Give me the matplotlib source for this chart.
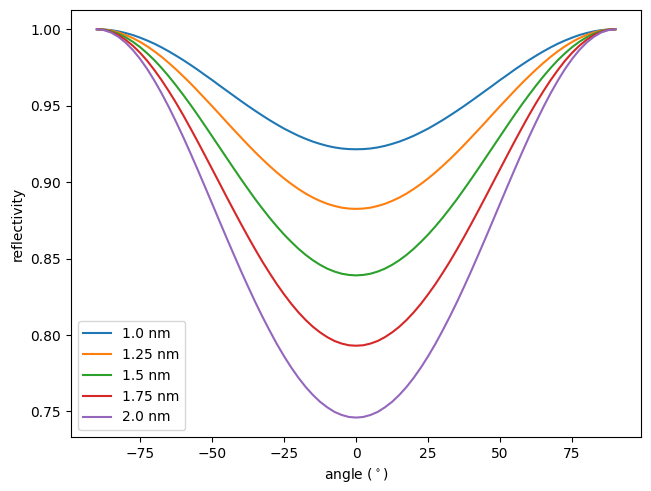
import numpy as np
import matplotlib
matplotlib.use('Agg')
import matplotlib.pyplot as plt

# angles from 0 to 90 deg in 2.5 deg steps (curves are symmetric about 0)
half_angle = np.arange(0, 92.5, 2.5)

r_10 = [0.9215, 0.9216, 0.9220, 0.9227, 0.9237, 0.9250, 0.9265, 0.9283, 0.9303, 0.9326,
        0.9350, 0.9377, 0.9405, 0.9435, 0.9466, 0.9498, 0.9531, 0.9565, 0.9599, 0.9633,
        0.9668, 0.9701, 0.9735, 0.9767, 0.9798, 0.9827, 0.9855, 0.9881, 0.9905, 0.9926,
        0.9945, 0.9962, 0.9975, 0.9986, 0.9994, 0.9998, 1.0]
r_125 = [0.8825, 0.8827, 0.8833, 0.8844, 0.8858, 0.8877, 0.8899, 0.8925, 0.8955, 0.8988,
         0.9024, 0.9063, 0.9105, 0.9149, 0.9195, 0.9243, 0.9293, 0.9343, 0.9394, 0.9446,
         0.9497, 0.9547, 0.9597, 0.9646, 0.9692, 0.9737, 0.9779, 0.9819, 0.9855, 0.9888,
         0.9917, 0.9942, 0.9962, 0.9979, 0.9991, 0.9998, 1.0]
r_15 = [0.8390, 0.8393, 0.8401, 0.8415, 0.8434, 0.8459, 0.8489, 0.8524, 0.8564, 0.8609,
        0.8657, 0.8710, 0.8766, 0.8826, 0.8888, 0.8954, 0.9021, 0.9090, 0.9160, 0.9230,
        0.9300, 0.9370, 0.9439, 0.9506, 0.9570, 0.9632, 0.9691, 0.9746, 0.9797, 0.9842,
        0.9883, 0.9918, 0.9947, 0.9970, 0.9987, 0.9997, 1.0]
r_175 = [0.7930, 0.7933, 0.7944, 0.7961, 0.7986, 0.8017, 0.8054, 0.8098, 0.8148, 0.8204,
         0.8266, 0.8332, 0.8404, 0.8479, 0.8559, 0.8642, 0.8728, 0.8816, 0.8905, 0.8996,
         0.9086, 0.9176, 0.9265, 0.9352, 0.9437, 0.9518, 0.9594, 0.9666, 0.9732, 0.9793,
         0.9846, 0.9892, 0.9930, 0.9961, 0.9982, 0.9996, 1.0]
r_20 = [0.7460, 0.7464, 0.7477, 0.7497, 0.7527, 0.7563, 0.7608, 0.7660, 0.7720, 0.7787,
        0.7861, 0.7941, 0.8028, 0.8119, 0.8215, 0.8316, 0.8420, 0.8528, 0.8637, 0.8748,
        0.8860, 0.8971, 0.9081, 0.9189, 0.9294, 0.9394, 0.9490, 0.9580, 0.9663, 0.9739,
        0.9806, 0.9864, 0.9912, 0.9950, 0.9978, 0.9994, 1.0]

labels = ['1.0 nm', '1.25 nm', '1.5 nm', '1.75 nm', '2.0 nm']
series = [r_10, r_125, r_15, r_175, r_20]


def mirror(h):
    h = list(h)
    return np.array(h[:0:-1] + h)


angle = np.concatenate([-half_angle[:0:-1], half_angle])

fig, ax = plt.subplots(figsize=(6.51, 4.91), dpi=100)
for r, lab in zip(series, labels):
    ax.plot(angle, mirror(r), label=lab)
ax.set_xlabel(r'angle ($^\circ$)')
ax.set_ylabel('reflectivity')
ax.legend(loc='lower left')
fig.subplots_adjust(left=0.109, right=0.985, bottom=0.110, top=0.980)
fig.savefig('out.png')
